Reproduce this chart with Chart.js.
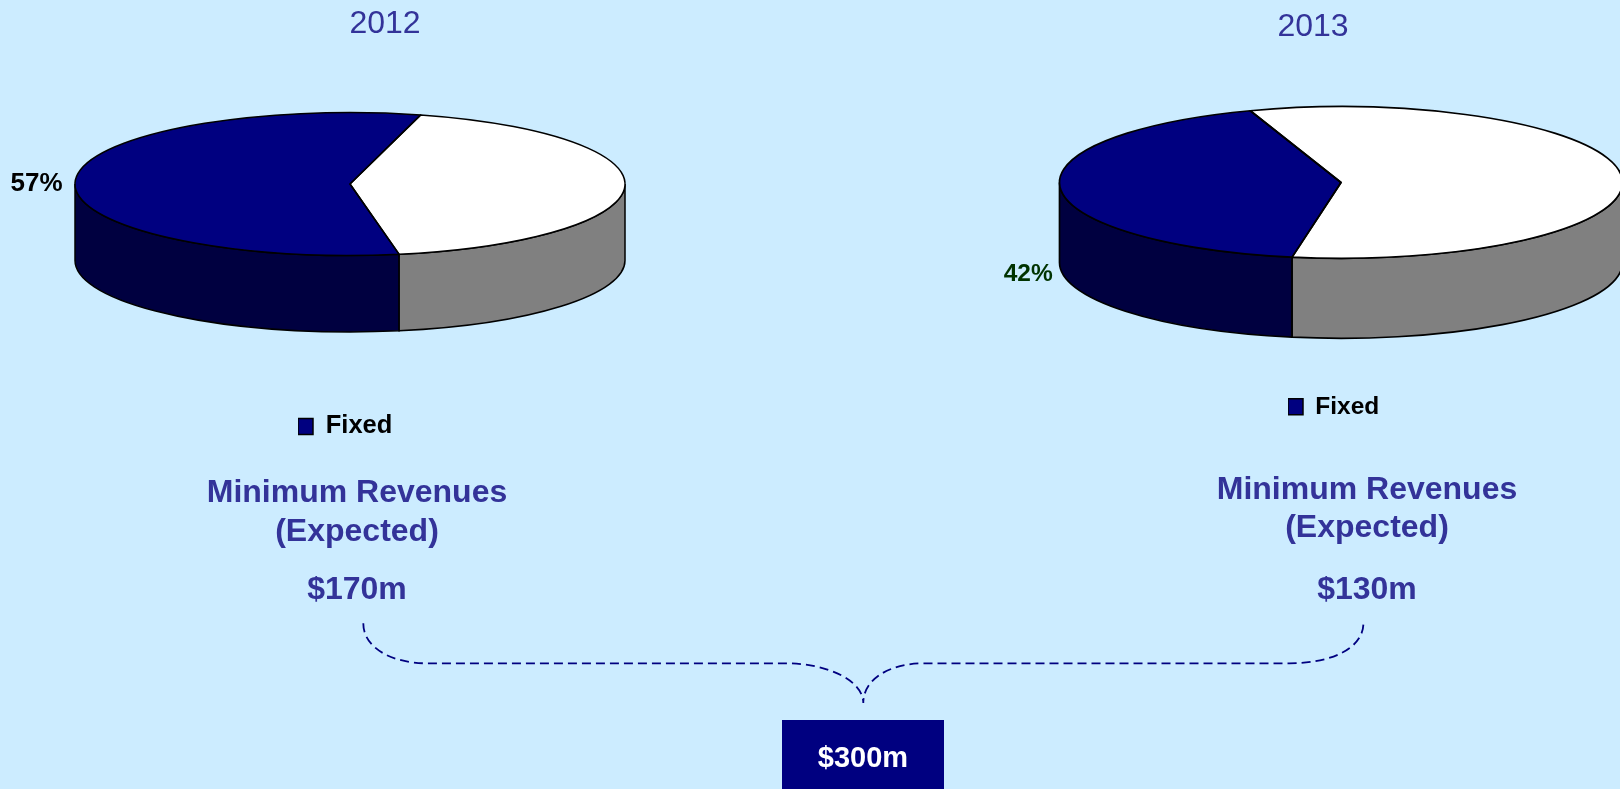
<!DOCTYPE html>
<html>
<head>
<meta charset="utf-8">
<script src="https://cdn.jsdelivr.net/npm/chart.js@4"></script>
<style>
  html,body{margin:0;padding:0;width:1620px;height:789px;overflow:hidden;background:#CCECFF;}
  body{position:relative;font-family:"Liberation Sans",Arial,sans-serif;}
  canvas{position:absolute;top:0;}
  #pieA{left:0;}
  #pieB{left:810px;}
  .t{position:absolute;line-height:1;white-space:nowrap;transform:translateX(-50%);color:#333399;}
  .year{font-size:32px;font-weight:400;}
  .rev{font-size:32px;font-weight:700;}
  #box{position:absolute;left:782px;top:720px;width:162px;height:69px;background:#000080;}
  #total{color:#fff;font-size:29px;font-weight:700;}
  svg{position:absolute;left:0;top:0;}
</style>
</head>
<body>
<canvas id="pieA" width="810" height="789"></canvas>
<canvas id="pieB" width="810" height="789"></canvas>

<div class="t year" style="left:385px;top:5.6px">2012</div>
<div class="t year" style="left:1313px;top:8.9px">2013</div>

<div class="t rev" style="left:357px;top:475.1px">Minimum Revenues</div>
<div class="t rev" style="left:357px;top:513.6px">(Expected)</div>
<div class="t rev" style="left:357px;top:571.9px">$170m</div>

<div class="t rev" style="left:1367px;top:471.9px">Minimum Revenues</div>
<div class="t rev" style="left:1367px;top:510.3px">(Expected)</div>
<div class="t rev" style="left:1367px;top:572.2px">$130m</div>

<svg width="1620" height="789">
  <path d="M363.3 623.3 C363.3 648 392 663.3 427 663.3 L786.7 663.3 C826 663.3 863.3 680 863.3 703 C863.3 680 888 663.3 924.6 663.3 L1289.4 663.3 C1332 663.3 1363.4 648 1363.4 623.3"
        fill="none" stroke="#000080" stroke-width="1.8" stroke-dasharray="9 5"/>
</svg>
<div id="box"></div>
<div class="t" id="total" style="left:863px;top:743.2px">$300m</div>

<script>
const sliceLabels = ['Fixed', ''];
const shares2012 = [57, 43];
const shares2013 = [42, 58];
const faceColors = ['#000080', '#FFFFFF'];
const sideColors = ['#000040', '#808080'];

const pie3d = {
  id: 'pie3d',
  beforeDatasetsDraw(chart, args, o) {
    const ctx = chart.ctx;
    const arcs = chart.getDatasetMeta(0).data;
    const k = o.squash;
    arcs.forEach((a, i) => {
      const rx = a.outerRadius, ry = rx * k;
      const TWO = Math.PI * 2;
      for (let n = -1; n <= 2; n++) {
        const s = Math.max(a.startAngle, n * TWO);
        const e = Math.min(a.endAngle, n * TWO + Math.PI);
        if (e <= s) continue;
        ctx.save();
        ctx.beginPath();
        ctx.ellipse(a.x, a.y, rx, ry, 0, s, e);
        ctx.ellipse(a.x, a.y + o.depth, rx, ry, 0, e, s, true);
        ctx.closePath();
        ctx.fillStyle = sideColors[i];
        ctx.fill();
        ctx.lineWidth = o.line;
        ctx.strokeStyle = '#000';
        ctx.stroke();
        ctx.restore();
      }
    });
    const c = arcs[0];
    ctx.save();
    ctx.translate(c.x, c.y);
    ctx.scale(1, k);
    ctx.translate(-c.x, -c.y);
  },
  afterDatasetsDraw(chart, args, o) {
    const ctx = chart.ctx;
    ctx.restore();
    const arcs = chart.getDatasetMeta(0).data;
    arcs.forEach(a => {
      ctx.save();
      ctx.beginPath();
      ctx.moveTo(a.x, a.y);
      ctx.ellipse(a.x, a.y, a.outerRadius, a.outerRadius * o.squash, 0, a.startAngle, a.endAngle);
      ctx.closePath();
      ctx.lineWidth = o.line;
      ctx.strokeStyle = '#000';
      ctx.lineJoin = 'round';
      ctx.stroke();
      ctx.restore();
    });
  },
  afterLayout(chart, args, o) {
    const l = chart.legend;
    const w = l.right - l.left, h = l.bottom - l.top;
    l.left = o.legendX; l.right = o.legendX + w;
    l.top = o.legendY; l.bottom = o.legendY + h;
  },
  afterDraw(chart, args, o) {
    const ctx = chart.ctx;
    ctx.save();
    ctx.font = 'bold ' + o.pctSize + 'px "Liberation Sans", Arial, sans-serif';
    ctx.fillStyle = o.pctColor;
    ctx.textAlign = 'left';
    ctx.textBaseline = 'alphabetic';
    ctx.fillText(chart.data.datasets[0].data[0] + '%', o.pctX, o.pctY);
    ctx.restore();
  }
};

function makePie(id, shares, rotation, radius, padding, fontSize, p3d) {
  return new Chart(document.getElementById(id), {
    type: 'pie',
    plugins: [pie3d],
    data: {
      labels: sliceLabels,
      datasets: [{
        data: shares,
        backgroundColor: faceColors,
        borderWidth: 0,
        clip: false
      }]
    },
    options: {
      responsive: false,
      devicePixelRatio: 1,
      animation: false,
      rotation: rotation,
      radius: radius,
      layout: { padding: padding },
      plugins: {
        title: { display: false },
        tooltip: { enabled: false },
        legend: {
          display: true,
          position: 'chartArea',
          align: 'start',
          labels: {
            padding: 0,
            boxWidth: 15,
            boxHeight: 16,
            color: '#000',
            font: { family: '"Liberation Sans", Arial, sans-serif', weight: 'bold', size: fontSize },
            generateLabels: chart =>
              Chart.overrides.pie.plugins.legend.labels.generateLabels(chart)
                .filter(item => item.text !== '')
                .map(item => Object.assign(item, { strokeStyle: '#000', lineWidth: 1.5 }))
          }
        },
        pie3d: p3d
      }
    }
  });
}

makePie('pieA', shares2012, 169.7, 275, { left: 0, right: 110, top: 0, bottom: 421 }, 25.5, {
  squash: 71.5 / 275, depth: 76.5, line: 1.5,
  legendX: 298, legendY: 413.7,
  pctX: 10.5, pctY: 190.7, pctSize: 26, pctColor: '#000000'
});
makePie('pieB', shares2013, 190, 281.5, { left: 252, right: 0, top: 0, bottom: 424 }, 24.5, {
  squash: 75.8 / 281.5, depth: 80, line: 1.7,
  legendX: 478, legendY: 394.5,
  pctX: 193.7, pctY: 281, pctSize: 24.5, pctColor: '#003300'
});
</script>
</body>
</html>
